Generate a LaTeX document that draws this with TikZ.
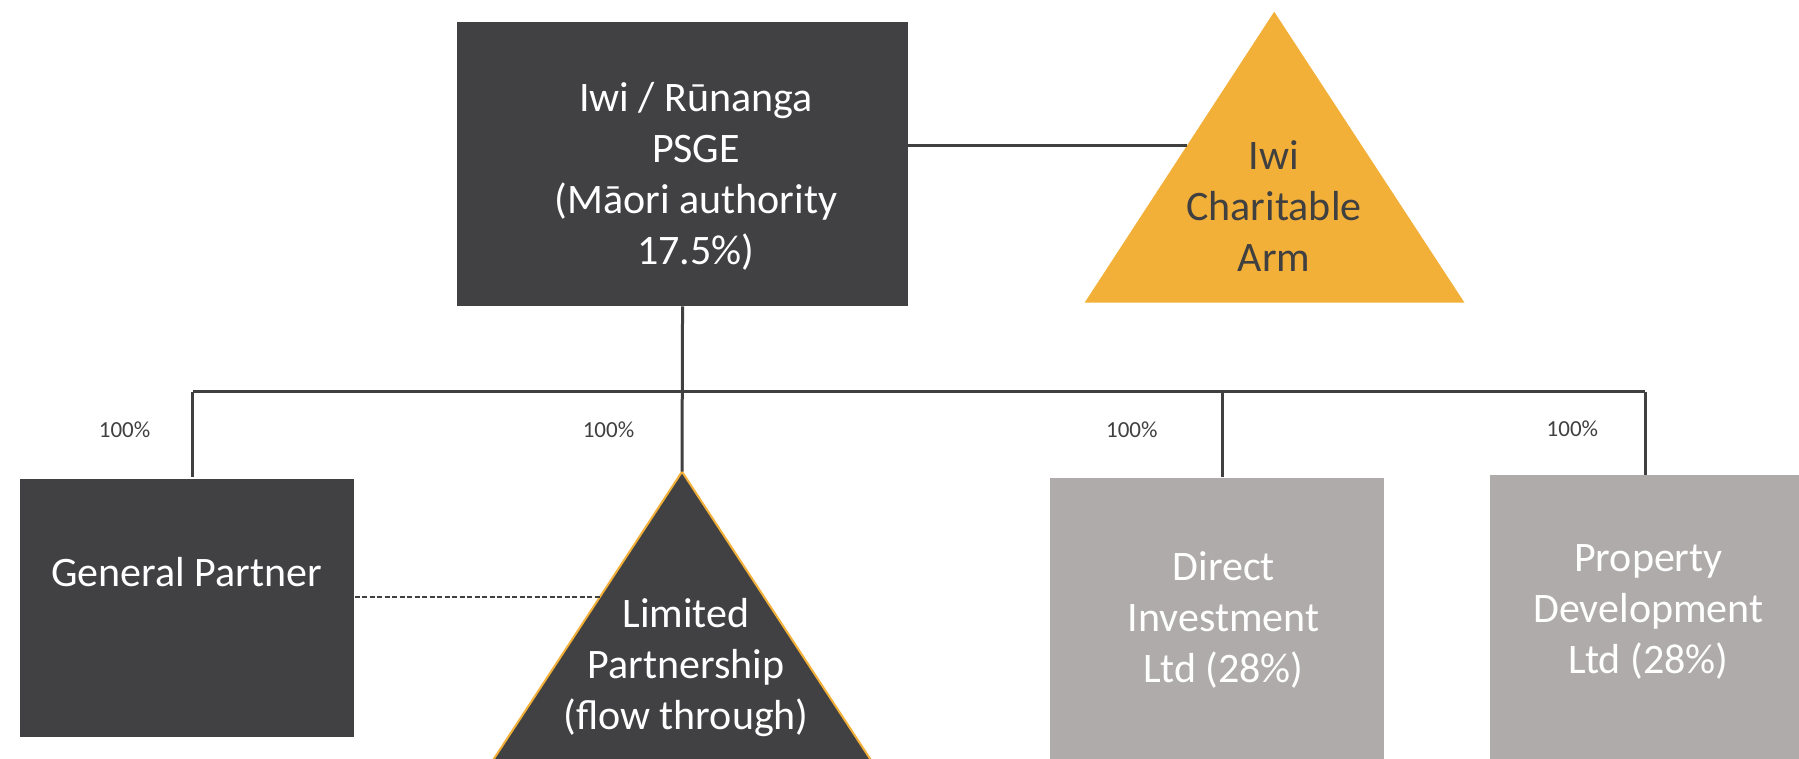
\documentclass[tikz,border=0pt]{standalone}
\usepackage{fontspec}
\setmainfont{Carlito}
\definecolor{boxdark}{RGB}{65,64,66}
\definecolor{boxgray}{RGB}{174,171,170}
\definecolor{arm}{RGB}{243,176,56}
\definecolor{linecol}{RGB}{64,64,64}
\begin{document}
\begin{tikzpicture}[x=1pt,y=-1pt,
  darkbox/.style={draw=none,fill=boxdark,rectangle,anchor=north west,inner sep=0pt},
  graybox/.style={draw=none,fill=boxgray,rectangle,anchor=north west,inner sep=0pt},
  bigtext/.style={font=\fontsize{42}{51}\selectfont,align=center,inner sep=0pt},
  pct/.style={font=\fontsize{23}{28}\selectfont,text=linecol,inner sep=0pt},
  conn/.style={draw=linecol,line width=3pt},
  dashline/.style={draw=linecol,line width=2pt,dash pattern=on 5pt off 2.5pt}]
\useasboundingbox (0,0) rectangle (1799,758);
\clip (0,0) rectangle (1799,758);

% boxes
\node[darkbox,minimum width=450.3pt,minimum height=284pt] (psge) at (457.2,22) {};
\node[darkbox,minimum width=334.2pt,minimum height=258.4pt] (gp) at (20,478.3) {};
\node[graybox,minimum width=333.8pt,minimum height=300pt] (di) at (1049.8,477.3) {};
\node[graybox,minimum width=320pt,minimum height=300pt] (pd) at (1489.5,475) {};

% triangles
\fill[arm] (1084.6,302.7) -- (1274.2,11.7) -- (1464.5,302.7) -- cycle;
\filldraw[fill=boxdark,draw=arm,line width=2pt] (490.5,764) -- (682,471.7) -- (873.5,764) -- cycle;

% named points
\coordinate (charleft) at (1186.9,145.7);
\coordinate (lpapex) at (682,471.7);
\coordinate (lpleft) at (599.7,597.3);
\coordinate (busL) at (192.9,391.7);
\coordinate (busR) at (1645,391.7);
\coordinate (diTop) at (1222.7,476.5);
\coordinate (pdTop) at (1645,475);
\coordinate (gpTop) at (192.9,477);

% connectors
\draw[conn] (charleft -| psge.east) -- (charleft);
\draw[conn] (busL) -- (busR);
\draw[conn] (psge.south) -- (lpapex);
\draw[conn] (busL) -- (gpTop);
\draw[conn] (diTop |- busL) -- (diTop);
\draw[conn] (busR) -- (pdTop);
\draw[dashline] (lpleft -| gp.east) -- (lpleft);

% texts
\node[bigtext,text=white] (psgetext) at (696,176.5) {Iwi / Rūnanga\\PSGE\\(Māori authority\\17.5\%)};
\node[bigtext,text=linecol] (armtext) at (1274,206) {Iwi\\Charitable\\Arm};
\node[bigtext,text=white] (gptext) at (186.6,572) {General Partner};
\node[bigtext,text=white] (lptext) at (686,668) {Limited\\Partnership\\(flow through)};
\node[bigtext,text=white] (ditext) at (1223.7,619.5) {Direct\\Investment\\Ltd (28\%)};
\node[bigtext,text=white] (pdtext) at (1648.4,611.5) {Property\\Development\\Ltd (28\%)};

\node[pct] (p1) at (124.6,430) {100\%};
\node[pct] (p2) at (608.5,430) {100\%};
\node[pct] (p3) at (1131.8,430) {100\%};
\node[pct] (p4) at (1572.4,428.3) {100\%};
\end{tikzpicture}
\end{document}
